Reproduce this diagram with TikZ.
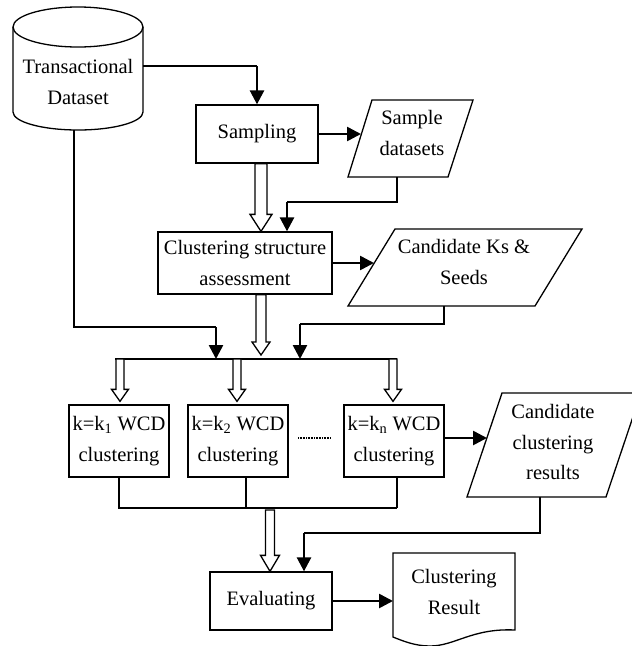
\documentclass[tikz,border=0pt]{standalone}
\usepackage{fontspec}
\setmainfont{Liberation Serif}
\usetikzlibrary{arrows.meta,calc}
\tikzset{
  box/.style={draw, line width=1.3pt, align=center, inner sep=0pt},
  thinl/.style={line width=1.3pt},
  thickarr/.style={line width=2.6pt, -{Triangle[length=14pt,width=14pt]}},
  hollow/.style={draw, line width=1.3pt, fill=white, line join=miter},
  lbl/.style={align=center, inner sep=0pt},
}
% #1 start, #2 tip, #3 shaft half width, #4 head half width, #5 head length
\newcommand\hollowarr[5]{\draw[hollow] let \p1=#1, \p2=#2 in
  (\x2-#3pt,\y1) -- (\x2-#3pt,\y2+#5pt) -- (\x2-#4pt,\y2+#5pt) -- (\x2,\y2)
  -- (\x2+#4pt,\y2+#5pt) -- (\x2+#3pt,\y2+#5pt) -- (\x2+#3pt,\y1) -- cycle;}
\begin{document}
\begin{tikzpicture}[x=1pt,y=-1pt,font=\fontsize{20.5}{30.5}\selectfont]
\useasboundingbox (0,0) rectangle (632,646);
\clip (0,0) rectangle (632,646);

% cylinder
\draw[thinl] (13,27) -- (13,112) arc[start angle=180,end angle=0,x radius=65,y radius=18] -- (143,27);
\draw[thinl] (78,27) ellipse[x radius=65, y radius=20];
\node[lbl] (db) at (78,82) {Transactional\\Dataset};
\coordinate (dbR) at (143,66);
\coordinate (dbB) at (74,130);

% sampling
\node[box, minimum width=122pt, minimum height=58pt] (samp) at (257,134) {Sampling};

% sample datasets
\draw[thinl] (372,100) -- (473,100) -- (448,177) -- (348,177) -- cycle;
\node[lbl] (sd) at (412,133) {Sample\\datasets};
\coordinate (sdL) at (361,134);
\coordinate (sdB) at (397,177);

% clustering structure assessment
\node[box, minimum width=174pt, minimum height=62pt] (cs) at (245,263) {Clustering structure\\assessment};

% candidate Ks
\draw[thinl] (395,229) -- (582,229) -- (535,306) -- (348,306) -- cycle;
\node[lbl] (ks) at (464,262) {Candidate Ks \&\\Seeds};
\coordinate (ksL) at (374,263);
\coordinate (ksB) at (444,306);

% distribution bar
\coordinate (barL) at (115,359);
\coordinate (barR) at (397,359);
\draw[thinl] (barL) -- (barR);

% clustering boxes
\node[box, minimum width=100pt, minimum height=72pt] (k1) at (119,441) {k=k\textsubscript{1} WCD\\clustering};
\node[box, minimum width=100pt, minimum height=72pt] (k2) at (238,441) {k=k\textsubscript{2} WCD\\clustering};
\node[box, minimum width=100pt, minimum height=72pt] (kn) at (394,441) {k=k\textsubscript{n} WCD\\clustering};
\coordinate (dotL) at (298,438);
\coordinate (dotR) at (331,438);
\draw[line width=1.2pt, dash pattern=on 0.9pt off 0.7pt] (dotL) -- (dotR);

% candidate clustering results
\draw[thinl] (502,393) -- (641,393) -- (606,497) -- (467,497) -- cycle;
\node[lbl] (ccr) at (553,442) {Candidate\\clustering\\results};
\coordinate (ccrL) at (487,438);
\coordinate (ccrB) at (540,497);

% merge line
\coordinate (mL) at (120,508);
\coordinate (mR) at (397,508);
\draw[thinl] (k1.south) |- (mR);
\draw[thinl] ([xshift=8pt]k2.south) -- ([xshift=8pt]k2.south |- mL);
\draw[thinl] ([xshift=3pt]kn.south) -- (mR);

% evaluating
\node[box, minimum width=122pt, minimum height=58pt] (ev) at (271,601) {Evaluating};

% clustering result document
\draw[thinl] (393,553) -- (515,553) -- (515,630)
  .. controls (472,628) and (455,646) .. (430,646)
  .. controls (415,646) and (403,641) .. (393,637) -- cycle;
\node[lbl] (res) at (454,592) {Clustering\\Result};
\coordinate (resL) at (393,601);

% connectors
\draw[thinl] (dbR) -- (dbR -| samp.north);
\draw[thickarr] (dbR -| samp.north) -- (samp.north);
\draw[thickarr] (samp.east) -- (sdL);
\coordinate (j1) at (287,202);
\draw[thinl] (sdB) |- (j1);
\draw[thickarr] (j1) -- (j1 |- cs.north);
\hollowarr{(samp.south)}{([xshift=16pt]cs.north)}{6}{11}{17}
\draw[thickarr] (cs.east) -- (ksL);
\coordinate (j2) at (300,324);
\draw[thinl] (ksB) |- (j2);
\draw[thickarr] (j2) -- (j2 |- barL);
\coordinate (j3) at (216,327);
\draw[thinl] (dbB) |- (j3);
\draw[thickarr] (j3) -- (j3 |- barL);
\coordinate (hb) at (261,355);
\hollowarr{(cs.south)}{(hb)}{5}{9}{13}
\hollowarr{(barL)}{([yshift=3pt,xshift=1pt]k1.north)}{4}{8.5}{12}
\hollowarr{(barL)}{([yshift=3pt,xshift=-1pt]k2.north)}{4}{8.5}{12}
\hollowarr{(barL)}{([yshift=3pt,xshift=-1pt]kn.north)}{4}{8.5}{12}
\draw[thickarr] ([yshift=3pt]kn.east) -- (ccrL);
\hollowarr{([yshift=-2pt]mL)}{([xshift=-1pt]ev.north)}{4.5}{9.5}{16}
\coordinate (j4) at (304,533);
\draw[thinl] (ccrB) |- (j4);
\draw[thickarr] (j4) -- (j4 |- ev.north);
\draw[thickarr] (ev.east) -- (resL);
\end{tikzpicture}
\end{document}
